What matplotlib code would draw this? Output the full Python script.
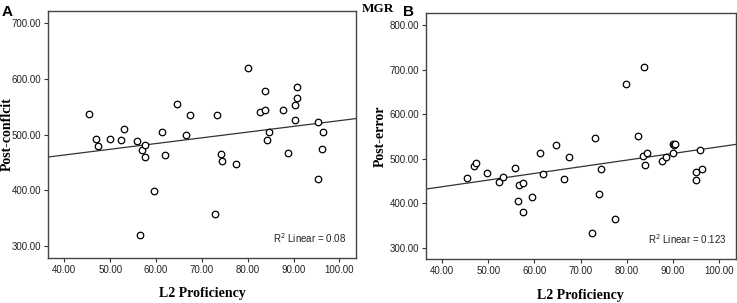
import numpy as np
import matplotlib.pyplot as plt

# Panel A: L2 proficiency vs post-conflict RT
a_x = [45.4, 46.9, 47.3, 49.9, 52.4, 53.1, 55.9, 56.9, 57.6, 57.5, 61.3, 62.0, 64.6,
       66.5, 67.4, 73.2, 74.1, 74.4, 80.1, 82.6, 83.7, 83.8, 84.6, 84.1, 87.6, 88.7,
       90.2, 90.2, 90.7, 90.8, 95.3, 96.4, 96.2, 95.3, 59.5, 72.8, 56.6, 77.5]
a_y = [537, 492, 480, 492, 490, 510, 488, 472, 481, 460, 504, 464, 555,
       499, 536, 536, 465, 453, 619, 540, 544, 579, 504, 491, 544, 467,
       527, 553, 566, 585, 522, 504, 474, 421, 399, 358, 319, 448]

# Panel B: L2 proficiency vs post-error RT
b_x = [45.4, 46.8, 47.3, 49.8, 52.3, 53.1, 55.9, 56.4, 56.7, 57.5, 57.6, 59.5, 61.2,
       61.9, 64.6, 66.5, 67.5, 72.5, 73.1, 73.9, 74.4, 77.5, 79.9, 82.4, 83.5, 83.8,
       84.0, 84.5, 87.7, 88.6, 90.1, 90.1, 90.3, 90.5, 95.1, 95.1, 96.0, 96.3]
b_y = [458, 484, 490, 469, 449, 460, 480, 406, 442, 445, 380, 415, 513,
       466, 532, 454, 505, 334, 547, 420, 478, 365, 668, 551, 507, 706,
       487, 512, 496, 505, 514, 533, 531, 533, 471, 453, 519, 478]

x_ticks = [40, 50, 60, 70, 80, 90, 100]
a_yticks = [300, 400, 500, 600, 700]
b_yticks = [300, 400, 500, 600, 700, 800]

serif = ['Liberation Serif', 'DejaVu Serif']
sans = ['Liberation Sans', 'DejaVu Sans']

fig = plt.figure(figsize=(7.37, 3.03), dpi=100)
axA = fig.add_axes([0.0655, 0.1495, 0.4175, 0.8142])
axB = fig.add_axes([0.578, 0.145, 0.420, 0.813])

panels = [
    (axA, a_x, a_y, a_yticks, (279, 722), 'Post-conflcit', 'R$^2$ Linear = 0.08', -0.112),
    (axB, b_x, b_y, b_yticks, (275, 828), 'Post-error', 'R$^2$ Linear = 0.123', -0.126),
]

for ax, xs, ys, yt, ylim, ylab, r2, labx in panels:
    xlim = (36.5, 103.6)
    ax.scatter(xs, ys, s=22, facecolors='white', edgecolors='black', linewidths=0.9, zorder=3)
    slope, icpt = np.polyfit(xs, ys, 1)
    lx = np.array(xlim)
    ax.plot(lx, slope * lx + icpt, color='#333333', lw=0.9, zorder=2)
    ax.set_xlim(xlim)
    ax.set_ylim(ylim)
    ax.set_xticks(x_ticks)
    ax.set_xticklabels(['%.2f' % v for v in x_ticks], family=sans, fontsize=7, color='#222222')
    ax.set_yticks(yt)
    ax.set_yticklabels(['%.2f' % v for v in yt], family=sans, fontsize=7, color='#222222')
    ax.tick_params(direction='out', length=3, width=0.8, color='#333333', pad=2)
    for sp in ax.spines.values():
        sp.set_color('#444444')
        sp.set_linewidth(1.0)
    ax.set_xlabel('L2 Proficiency', family=serif, fontweight='bold', fontsize=10, labelpad=9)
    ax.set_ylabel(ylab, family=serif, fontweight='bold', fontsize=10)
    ax.yaxis.set_label_coords(labx, 0.5)
    ax.text(0.97, 0.08, r2, transform=ax.transAxes, ha='right', va='center',
            family=sans, fontsize=7, color='#222222')

fig.text(0.002, 0.985, 'A', family=sans, fontweight='bold', fontsize=11, ha='left', va='top')
fig.text(0.547, 0.985, 'B', family=sans, fontweight='bold', fontsize=11, ha='left', va='top')
fig.text(0.513, 0.99, 'MGR', family=serif, fontweight='bold', fontsize=9.5, ha='center', va='top')

fig.savefig('out.png', dpi=100)
